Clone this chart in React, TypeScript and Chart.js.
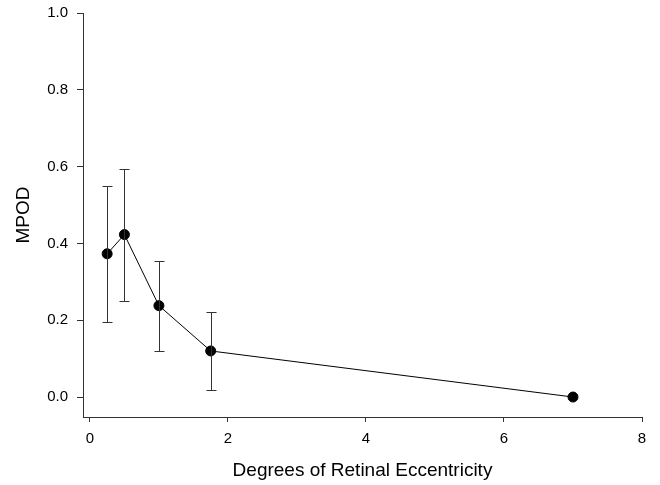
import React, { useEffect, useRef } from "react";
import { Chart, registerables } from "chart.js";

Chart.register(...registerables);

const eccentricity = [0.25, 0.5, 1, 1.75, 7];
const mpod = [0.373, 0.423, 0.238, 0.12, 0.0];
const errLow = [0.196, 0.251, 0.121, 0.018, null];
const errHigh = [0.55, 0.594, 0.355, 0.222, null];
const xTicks = [0, 2, 4, 6, 8];
const yTicks = [0, 0.2, 0.4, 0.6, 0.8, 1.0];

const FONT = "'Liberation Sans', Arial, sans-serif";

const errorBarPlugin = {
  id: "errorBars",
  afterDatasetsDraw(chart: any) {
    const { ctx, scales } = chart;
    const xs = scales.x;
    const ys = scales.y;
    ctx.save();
    ctx.strokeStyle = "#333";
    ctx.lineWidth = 1;
    eccentricity.forEach((xv, i) => {
      const lo = errLow[i];
      const hi = errHigh[i];
      if (lo == null || hi == null) return;
      const px = Math.round(xs.getPixelForValue(xv)) + 0.5;
      const pLo = Math.round(ys.getPixelForValue(lo)) + 0.5;
      const pHi = Math.round(ys.getPixelForValue(hi)) + 0.5;
      ctx.beginPath();
      ctx.moveTo(px, pLo);
      ctx.lineTo(px, pHi);
      ctx.moveTo(px - 5, pLo);
      ctx.lineTo(px + 5, pLo);
      ctx.moveTo(px - 5, pHi);
      ctx.lineTo(px + 5, pHi);
      ctx.stroke();
    });
    ctx.restore();
  },
};

export default function App() {
  const ref = useRef<HTMLCanvasElement>(null);
  useEffect(() => {
    if (!ref.current) return;
    const chart = new Chart(ref.current, {
      type: "line",
      data: {
        datasets: [
          {
            data: eccentricity.map((x, i) => ({ x, y: mpod[i] })),
            borderColor: "#000",
            borderWidth: 1,
            backgroundColor: "#000",
            pointBackgroundColor: "#000",
            pointBorderColor: "#000",
            pointRadius: 5,
            tension: 0,
          },
        ],
      },
      options: {
        animation: false,
        responsive: false,
        devicePixelRatio: 1,
        layout: { padding: { top: 13, right: 18, left: 0, bottom: 0 } },
        plugins: { legend: { display: false }, tooltip: { enabled: false } },
        scales: {
          x: {
            type: "linear",
            min: -0.1,
            max: 8,
            afterBuildTicks: (s: any) => {
              s.ticks = xTicks.map((v) => ({ value: v }));
            },
            afterFit: (s: any) => {
              s.height = 68;
              s.paddingLeft = 0;
              s.paddingRight = 0;
            },
            grid: { drawOnChartArea: false, drawTicks: true, tickLength: 5, color: "#333" },
            border: { display: true, color: "#333", width: 1 },
            ticks: {
              color: "#000",
              font: { family: FONT, size: 15 },
              padding: 8,
              maxRotation: 0,
              callback: (v: any) => String(v),
            },
            title: {
              display: true,
              text: "Degrees of Retinal Eccentricity",
              color: "#000",
              font: { family: FONT, size: 19 },
              padding: { bottom: 3, top: 0 },
            },
          },
          y: {
            type: "linear",
            min: -0.052,
            max: 1.0,
            afterBuildTicks: (s: any) => {
              s.ticks = yTicks.map((v) => ({ value: v }));
            },
            afterFit: (s: any) => {
              s.width = 83;
              s.paddingTop = 0;
              s.paddingBottom = 0;
            },
            grid: { drawOnChartArea: false, drawTicks: true, tickLength: 6, color: "#333" },
            border: { display: true, color: "#333", width: 1 },
            ticks: {
              color: "#000",
              font: { family: FONT, size: 15 },
              padding: 9,
              callback: (v: any) => Number(v).toFixed(1),
            },
            title: {
              display: true,
              text: "MPOD",
              color: "#000",
              font: { family: FONT, size: 19 },
              padding: { top: 12, bottom: 0 },
            },
          },
        },
      },
      plugins: [errorBarPlugin],
    });
    return () => chart.destroy();
  }, []);
  return (
    <div style={{ position: "absolute", left: 0, top: 0, width: 660, height: 485, background: "#fff" }}>
      <canvas ref={ref} width={660} height={485} style={{ width: 660, height: 485 }} />
    </div>
  );
}
